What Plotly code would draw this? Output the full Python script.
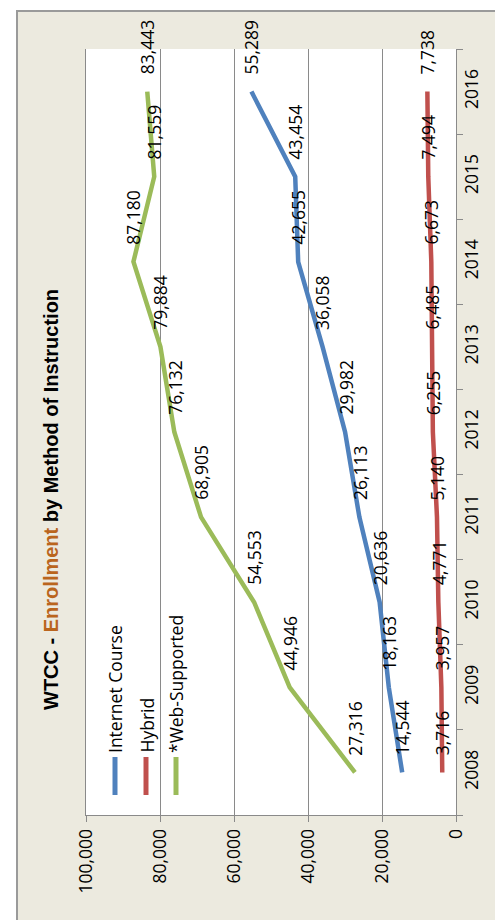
import plotly.graph_objects as go

years = ["2008", "2009", "2010", "2011", "2012", "2013", "2014", "2015", "2016"]
series_names = ["Internet Course", "Hybrid", "*Web-Supported"]
internet_course = [14544, 18163, 20636, 26113, 29982, 36058, 42655, 43454, 55289]
hybrid = [3716, 3957, 4771, 5140, 6255, 6485, 6673, 7494, 7738]
web_supported = [27316, 44946, 54553, 68905, 76132, 79884, 87180, 81559, 83443]
value_ticks = [0, 20000, 40000, 60000, 80000, 100000]

colors = ["#4F81BD", "#C0504D", "#9BBB59"]
all_series = [internet_course, hybrid, web_supported]

W, H = 503, 920
L, R, T, B = 78, 55, 41, 113
pw, ph = W - L - R, H - T - B


def px_x(p):
    return (p - L) / pw


def px_y(p):
    return (H - B - p) / ph


FONT = "Open Sans"
FS = 17.5
fig = go.Figure()
for name, vals, col in zip(series_names, all_series, colors):
    fig.add_trace(go.Scatter(x=vals, y=years, mode="lines", name=name,
                             line=dict(color=col, width=4.5), showlegend=False))

annotations = []
for vals in all_series:
    for i, v in enumerate(vals):
        annotations.append(dict(x=v, y=i, xref="x", yref="y", text=f"{v:,}",
                                textangle=-90, showarrow=False, xanchor="center",
                                yanchor="bottom", yshift=15,
                                font=dict(family=FONT, size=FS, color="#000000")))

# title
annotations.append(dict(
    x=px_x(43), y=px_y(492), xref="paper", yref="paper", showarrow=False,
    textangle=-90, xanchor="center", yanchor="middle",
    text="<b>WTCC - <span style='color:#BA651E'>Enrollment</span> by Method of Instruction</b>",
    font=dict(family="Liberation Sans", size=20, color="#000000")))

# legend
shapes = []
leg_x = [107, 138, 168]
for name, col, lx in zip(series_names, colors, leg_x):
    shapes.append(dict(type="line", xref="paper", yref="paper",
                       x0=px_x(lx), x1=px_x(lx), y0=px_y(749), y1=px_y(787),
                       line=dict(color=col, width=5)))
    annotations.append(dict(x=px_x(lx), y=px_y(747), xref="paper", yref="paper",
                            text=name, textangle=-90, showarrow=False,
                            xanchor="center", yanchor="bottom",
                            font=dict(family=FONT, size=FS, color="#000000")))

# white surroundings outside the chart box
for x0, x1, y0, y1 in [(-20, 9, -20, 940), (-20, 540, -20, 3), (-20, 540, 917, 940)]:
    shapes.append(dict(type="rect", xref="paper", yref="paper", layer="above",
                       x0=px_x(x0), x1=px_x(x1), y0=px_y(y1), y1=px_y(y0),
                       fillcolor="#FFFFFF", line=dict(width=0)))
# chart box border
shapes.append(dict(type="rect", xref="paper", yref="paper", layer="above",
                   x0=px_x(9), x1=px_x(530), y0=px_y(917), y1=px_y(3),
                   fillcolor="rgba(0,0,0,0)", line=dict(color="#9A9A9A", width=2)))

fig.update_layout(
    width=W, height=H,
    margin=dict(l=L, r=R, t=T, b=B),
    paper_bgcolor="#ECEADF",
    plot_bgcolor="#FFFFFF",
    showlegend=False,
    annotations=annotations,
    shapes=shapes,
    xaxis=dict(range=[100000, 0], tickvals=value_ticks, tickformat=",",
               tickangle=-90, showgrid=True, gridcolor="#8A8A8A", gridwidth=1,
               showline=True, linecolor="#8A8A8A", linewidth=1,
               ticks="outside", ticklen=6, tickcolor="#8A8A8A",
               zeroline=False,
               tickfont=dict(family=FONT, size=FS, color="#000000")),
    yaxis=dict(type="category", categoryorder="array", categoryarray=years,
               range=[-0.5, 8.5], side="right", tickangle=-90,
               showgrid=False, showline=True, mirror=True,
               linecolor="#8A8A8A", linewidth=1,
               ticks="outside", ticklen=6, tickcolor="#8A8A8A",
               tickson="boundaries",
               tickfont=dict(family=FONT, size=FS, color="#000000")),
)

fig.write_html("out.html")
